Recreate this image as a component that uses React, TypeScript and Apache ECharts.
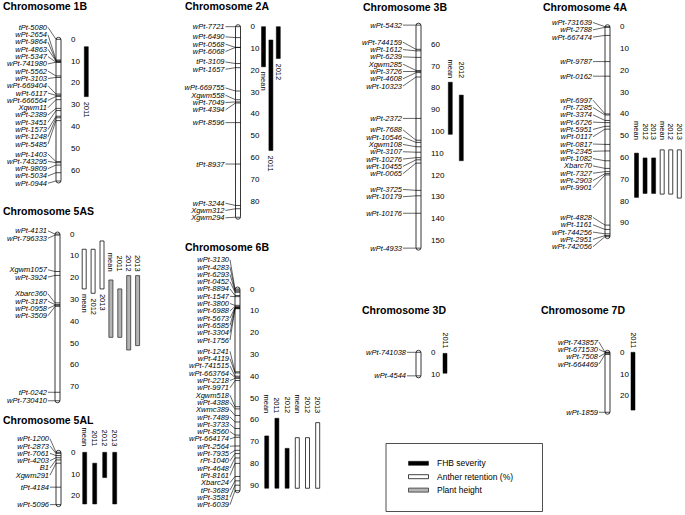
import React, { useEffect, useRef } from "react";
import * as echarts from "echarts";

const SCALE = 2.18; // px per cM
const LABEL_STEP = 7.3;
const FONT = "'Liberation Sans', Arial, Helvetica, sans-serif";

// ---------- marker data: [name, position cM] ----------
const markers1B: [string, number][] = [
  ["tPt-5080", 0], ["wPt-2654", 9.5], ["wPt-9864", 10], ["wPt-4863", 10], ["wPt-5347", 10.5], ["wPt-741980", 10.5],
  ["wPt-5562", 16.8], ["wPt-3103", 17.5], ["wPt-669404", 25.1], ["wPt-6117", 25.7], ["wPt-666564", 26.2], ["Xgwm11", 27.7],
  ["wPt-2389", 31.7], ["wPt-3451", 32.7], ["wPt-1573", 35.3], ["wPt-1248", 36], ["wPt-5485", 37.3],
  ["wPt-1403", 56.1], ["wPt-743295", 56.6], ["wPt-9809", 57.7], ["wPt-5034", 61.2], ["wPt-0944", 65],
];
const markers2A: [string, number][] = [
  ["wPt-7721", 0], ["wPt-6490", 5], ["wPt-0568", 9.5], ["wPt-6068", 9.5], ["tPt-3109", 16.9], ["wPt-1657", 18.8],
  ["wPt-669755", 29.5], ["Xgwm558", 33.5], ["wPt-7049", 34.5], ["wPt-4394", 35], ["wPt-8596", 44], ["tPt-8937", 63],
  ["wPt-3244", 82], ["Xgwm312", 83.5], ["Xgwm294", 87.4],
];
const markers3B: [string, number][] = [
  ["wPt-5432", 51.2], ["wPt-744159", 62.3], ["wPt-1612", 63], ["wPt-6239", 66], ["Xgwm285", 72], ["wPt-3726", 72.5],
  ["wPt-4608", 73], ["wPt-10323", 75], ["wPt-2372", 94], ["wPt-7688", 104], ["wPt-10546", 105], ["Xgwm108", 107],
  ["wPt-3107", 109.5], ["wPt-10276", 112], ["wPt-10455", 113], ["wPt-0065", 114.5], ["wPt-3725", 127],
  ["wPt-10179", 129.5], ["wPt-10176", 137.5], ["wPt-4933", 153.5],
];
const markers4A: [string, number][] = [
  ["wPt-731639", 0], ["wPt-2788", 0.3], ["wPt-667474", 4], ["wPt-9787", 16], ["wPt-0162", 22.7], ["wPt-6997", 40],
  ["rPt-7285", 40.5], ["wPt-3374", 43], ["wPt-6726", 44], ["wPt-5951", 45.7], ["wPt-0117", 47], ["wPt-0817", 54],
  ["wPt-2345", 57], ["wPt-1082", 61.5], ["Xbarc70", 65], ["wPt-7327", 66.5], ["wPt-2903", 67.4], ["wPt-9901", 68],
  ["wPt-4828", 91], ["wPt-1161", 93], ["wPt-744256", 95], ["wPt-2951", 95.8], ["wPt-742056", 96.3],
];
const markers5AS: [string, number][] = [
  ["wPt-4131", 0], ["wPt-796333", 0.5], ["Xgwm1057", 17.2], ["wPt-3924", 19], ["Xbarc360", 31.6], ["wPt-3187", 32.4],
  ["wPt-0958", 32.7], ["wPt-3509", 33.2], ["tPt-0242", 72.6], ["wPt-730410", 76.5],
];
const markers5AL: [string, number][] = [
  ["wPt-1200", 0], ["wPt-2873", 0.5], ["wPt-7061", 1.5], ["wPt-4203", 2.5], ["B1", 3.5], ["Xgwm291", 5],
  ["tPt-4184", 16], ["wPt-5096", 24],
];
const markers6B: [string, number][] = [
  ["wPt-3130", 0], ["wPt-4283", 0.5], ["wPt-6293", 1], ["wPt-0452", 1.5], ["wPt-8894", 3], ["wPt-1547", 3.5],
  ["wPt-3800", 7.5], ["wPt-6988", 8], ["wPt-5673", 8.5], ["wPt-6585", 8.5], ["wPt-3304", 9], ["wPt-1756", 9],
  ["wPt-1241", 38], ["wPt-4119", 38.5], ["wPt-741515", 40], ["wPt-663764", 40.5], ["wPt-2218", 41], ["wPt-9971", 42],
  ["Xgwm518", 54], ["wPt-4388", 55], ["Xwmc389", 58], ["wPt-7489", 61], ["wPt-3733", 64], ["wPt-8560", 67],
  ["wPt-664174", 68], ["wPt-2564", 72], ["wPt-7935", 74], ["rPt-1040", 75.5], ["wPt-4648", 77.5], ["tPt-8161", 80],
  ["Xbarc24", 86], ["tPt-3689", 88], ["wPt-3581", 90], ["wPt-6039", 92.5],
];
const markers3D: [string, number][] = [["wPt-741038", 0], ["wPt-4544", 10.8]];
const markers7D: [string, number][] = [
  ["wPt-743857", 0], ["wPt-671530", 0], ["wPt-7508", 0.5], ["wPt-664469", 1], ["wPt-1859", 27.5],
];

// ---------- axis tick labels (cM) ----------
const ticks1B = [0, 10, 20, 30, 40, 50, 60];
const ticks2A = [0, 10, 20, 30, 40, 50, 60, 70, 80];
const ticks3B = [60, 70, 80, 90, 100, 110, 120, 130, 140, 150];
const ticks4A = [0, 10, 20, 30, 40, 50, 60, 70, 80, 90];
const ticks5AS = [0, 10, 20, 30, 40, 50, 60, 70];
const ticks5AL = [0, 10, 20];
const ticks6B = [0, 10, 20, 30, 40, 50, 60, 70, 80, 90];
const ticks3D = [0, 10];
const ticks7D = [0, 10, 20];

// ---------- QTL intervals ----------
type Qtl = { env: string; trait: "fhb" | "anther" | "height"; from: number; to: number; below?: boolean };
const qtl1B: Qtl[] = [{ env: "2011", trait: "fhb", from: 3.4, to: 26.3, below: true }];
const qtl2A: Qtl[] = [
  { env: "mean", trait: "fhb", from: 0, to: 18.4, below: true },
  { env: "2011", trait: "fhb", from: 6.1, to: 56.8, below: true },
  { env: "2012", trait: "fhb", from: 0, to: 14.6, below: true },
];
const qtl3B: Qtl[] = [
  { env: "mean", trait: "fhb", from: 77.4, to: 101.3 },
  { env: "2012", trait: "fhb", from: 83.3, to: 113.4 },
];
const qtl4A: Qtl[] = [
  { env: "mean", trait: "fhb", from: 58, to: 78.3 },
  { env: "2012", trait: "fhb", from: 60.2, to: 76.5 },
  { env: "2013", trait: "fhb", from: 60.2, to: 76.5 },
  { env: "mean", trait: "anther", from: 56.5, to: 76.8 },
  { env: "2012", trait: "anther", from: 56.5, to: 76.8 },
  { env: "2013", trait: "anther", from: 56.5, to: 78.6 },
];
const qtl5AS: Qtl[] = [
  { env: "mean", trait: "anther", from: 7.0, to: 25.2, below: true },
  { env: "2012", trait: "anther", from: 7.0, to: 27.2, below: true },
  { env: "2013", trait: "anther", from: 3.2, to: 25.2, below: true },
  { env: "mean", trait: "height", from: 21.1, to: 47.4 },
  { env: "2011", trait: "height", from: 25.2, to: 47.4 },
  { env: "2012", trait: "height", from: 19.1, to: 53.2 },
  { env: "2013", trait: "height", from: 19.1, to: 51.2 },
];
const qtl5AL: Qtl[] = [
  { env: "mean", trait: "fhb", from: 0, to: 23.7 },
  { env: "2011", trait: "fhb", from: 5.0, to: 23.7 },
  { env: "2012", trait: "fhb", from: 0, to: 11.6 },
  { env: "2013", trait: "fhb", from: 0, to: 23.7 },
];
const qtl6B: Qtl[] = [
  { env: "mean", trait: "fhb", from: 67.4, to: 91.4 },
  { env: "2011", trait: "fhb", from: 59.3, to: 91.4 },
  { env: "2012", trait: "fhb", from: 73.1, to: 91.4 },
  { env: "mean", trait: "anther", from: 68.2, to: 91.4 },
  { env: "2012", trait: "anther", from: 68.2, to: 91.4 },
  { env: "2013", trait: "anther", from: 61.3, to: 91.4 },
];
const qtl3D: Qtl[] = [{ env: "2011", trait: "fhb", from: 0.5, to: 9.6 }];
const qtl7D: Qtl[] = [{ env: "2011", trait: "fhb", from: 0, to: 26.5 }];

const legendLabels = ["FHB severity", "Anther retention (%)", "Plant height"];
const legendTraits: Qtl["trait"][] = ["fhb", "anther", "height"];

// ---------- layout (positions only) ----------
const panels = [
  { title: "Chromosome 1B", titleX: 3, titleY: 0, left: 56, y0: 39.3, gap: 9, qtlOffset: 25.3, qtlStep: 8, labelGap: 5, markers: markers1B, ticks: ticks1B, qtls: qtl1B },
  { title: "Chromosome 2A", titleX: 185, titleY: 0.5, left: 235.5, y0: 26.7, gap: 11, qtlOffset: 23, qtlStep: 7.4, labelGap: 5, markers: markers2A, ticks: ticks2A, qtls: qtl2A },
  { title: "Chromosome 3B", titleX: 363, titleY: 1, left: 416, y0: -86.5, gap: 14, qtlOffset: 29.3, qtlStep: 11, labelGap: 4, markers: markers3B, ticks: ticks3B, qtls: qtl3B },
  { title: "Chromosome 4A", titleX: 543, titleY: 1, left: 605, y0: 26.7, gap: 13, qtlOffset: 26.5, qtlStep: 8.56, labelGap: 10, markers: markers4A, ticks: ticks4A, qtls: qtl4A },
  { title: "Chromosome 5AS", titleX: 3, titleY: 205.5, left: 55, y0: 234, gap: 8, qtlOffset: 24.2, qtlStep: 8.9, labelGap: 4, markers: markers5AS, ticks: ticks5AS, qtls: qtl5AS },
  { title: "Chromosome 5AL", titleX: 3, titleY: 414, left: 56, y0: 452.3, gap: 7, qtlOffset: 23.7, qtlStep: 10, labelGap: 6, markers: markers5AL, ticks: ticks5AL, qtls: qtl5AL },
  { title: "Chromosome 6B", titleX: 185, titleY: 241, left: 235, y0: 289, gap: 6, qtlOffset: 26.7, qtlStep: 10.2, labelGap: 5, markers: markers6B, ticks: ticks6B, qtls: qtl6B },
  { title: "Chromosome 3D", titleX: 362, titleY: 304, left: 416, y0: 352.3, gap: 10, qtlOffset: 24, qtlStep: 8, labelGap: 5, markers: markers3D, ticks: ticks3D, qtls: qtl3D },
  { title: "Chromosome 7D", titleX: 541, titleY: 304, left: 605, y0: 352.3, gap: 7, qtlOffset: 23, qtlStep: 8, labelGap: 4, markers: markers7D, ticks: ticks7D, qtls: qtl7D },
];

const CHROM_W = 5;
const BAR_W = 4;

const TRAIT_STYLE: Record<string, any> = {
  fhb: { fill: "#000", stroke: "#000", lineWidth: 0.5 },
  anther: { fill: "#fff", stroke: "#111", lineWidth: 0.8 },
  height: { fill: "#b4b4b4", stroke: "#333", lineWidth: 0.8 },
};

function spread(ys: number[], step: number): number[] {
  const clusters: { first: number; n: number; sum: number; top: number }[] = [];
  for (let i = 0; i < ys.length; i++) {
    clusters.push({ first: i, n: 1, sum: ys[i], top: ys[i] });
    while (clusters.length > 1) {
      const b = clusters[clusters.length - 1];
      const a = clusters[clusters.length - 2];
      if (a.top + a.n * step > b.top + 1e-6) {
        const n = a.n + b.n;
        const sum = a.sum + b.sum;
        clusters.splice(clusters.length - 2, 2, { first: a.first, n, sum, top: sum / n - ((n - 1) * step) / 2 });
      } else break;
    }
  }
  const out: number[] = new Array(ys.length);
  clusters.forEach((c) => {
    for (let k = 0; k < c.n; k++) out[c.first + k] = c.top + k * step;
  });
  return out;
}

function buildOption() {
  const grid: any[] = [];
  const xAxis: any[] = [];
  const yAxis: any[] = [];
  const series: any[] = [];
  const title: any[] = [];

  panels.forEach((p, gi) => {
    const vals = p.markers.map((m) => m[1]);
    const min = Math.min(...vals);
    const max = Math.max(...vals);
    grid.push({
      left: p.left,
      top: p.y0 + min * SCALE,
      width: CHROM_W,
      height: (max - min) * SCALE,
      containLabel: false,
      outerBoundsMode: "none",
    });
    xAxis.push({ gridIndex: gi, type: "value", min: 0, max: 1, show: false });
    yAxis.push({
      gridIndex: gi,
      type: "value",
      inverse: true,
      min,
      max,
      position: "right",
      axisLine: { show: false },
      splitLine: { show: false },
      axisTick: { show: true, inside: false, length: 5, lineStyle: { color: "#000", width: 0.8 }, customValues: p.ticks },
      axisLabel: { show: true, margin: 10, fontSize: 8, color: "#000", fontFamily: FONT, customValues: p.ticks },
    });
    title.push({
      text: p.title,
      left: p.titleX,
      top: p.titleY,
      padding: 0,
      textStyle: { fontSize: 10.5, fontWeight: "bold", color: "#000", fontFamily: FONT },
    });

    // chromosome body
    series.push({
      type: "custom",
      xAxisIndex: gi,
      yAxisIndex: gi,
      clip: false,
      z: 1,
      silent: true,
      data: [[0, min, max]],
      renderItem: (params: any, api: any) => {
        const cs = params.coordSys;
        const a = api.coord([0, api.value(1)]);
        const b = api.coord([0, api.value(2)]);
        return {
          type: "rect",
          shape: { x: cs.x, y: a[1] - 2, width: cs.width, height: b[1] - a[1] + 4, r: 2.5 },
          style: { fill: "#fff", stroke: "#222", lineWidth: 0.9 },
        };
      },
    });

    // markers with labels
    series.push({
      type: "custom",
      xAxisIndex: gi,
      yAxisIndex: gi,
      clip: false,
      z: 2,
      silent: true,
      data: p.markers.map((m) => ({ name: m[0], value: [0, m[1]] })),
      renderItem: (params: any, api: any) => {
        const cs = params.coordSys;
        const i = params.dataIndex;
        const ys = p.markers.map((m) => api.coord([0, m[1]])[1]);
        const ly = spread(ys, LABEL_STEP)[i];
        const my = ys[i];
        const xL = cs.x;
        const xR = cs.x + cs.width;
        const xText = xL - p.gap;
        return {
          type: "group",
          children: [
            { type: "line", shape: { x1: xL, y1: my, x2: xR, y2: my }, style: { stroke: "#000", lineWidth: 0.7 } },
            { type: "line", shape: { x1: xText + 1, y1: ly, x2: xL, y2: my }, style: { stroke: "#000", lineWidth: 0.6 } },
            {
              type: "text",
              style: {
                text: p.markers[i][0],
                x: xText,
                y: ly,
                align: "right",
                verticalAlign: "middle",
                fontSize: 7.5,
                fontStyle: "italic",
                fontFamily: FONT,
                fill: "#000",
              },
            },
          ],
        };
      },
    });

    // QTL bars
    series.push({
      type: "custom",
      xAxisIndex: gi,
      yAxisIndex: gi,
      clip: false,
      z: 3,
      silent: true,
      data: p.qtls.map((q) => [0, q.from, q.to]),
      renderItem: (params: any, api: any) => {
        const cs = params.coordSys;
        const i = params.dataIndex;
        const q = p.qtls[i];
        const cx = cs.x + cs.width + p.qtlOffset + i * p.qtlStep;
        const yTop = api.coord([0, api.value(1)])[1];
        const yBot = api.coord([0, api.value(2)])[1];
        const aboveTops = p.qtls.filter((x) => !x.below).map((x) => api.coord([0, x.from])[1]);
        const labelAboveY = aboveTops.length ? Math.min(...aboveTops) - p.labelGap : 0;
        const textStyle = { text: q.env, x: 0, y: 0, verticalAlign: "middle", fontSize: 7.5, fontFamily: FONT, fill: "#000" };
        const label = q.below
          ? { type: "text", x: cx, y: yBot + 5, rotation: -Math.PI / 2, style: { ...textStyle, align: "left" } }
          : { type: "text", x: cx, y: labelAboveY, rotation: -Math.PI / 2, style: { ...textStyle, align: "right" } };
        return {
          type: "group",
          children: [
            { type: "rect", shape: { x: cx - BAR_W / 2, y: yTop, width: BAR_W, height: yBot - yTop }, style: TRAIT_STYLE[q.trait] },
            label,
          ],
        };
      },
    });
  });

  // legend box drawn with graphic elements
  const graphic: any[] = [
    { type: "rect", shape: { x: 386, y: 443.5, width: 156.5, height: 68 }, style: { fill: "#fff", stroke: "#222", lineWidth: 0.8 } },
  ];
  legendLabels.forEach((lab, k) => {
    const y = 463.3 + k * 13.4;
    graphic.push({ type: "rect", shape: { x: 408.5, y: y - 2, width: 20, height: 4 }, style: TRAIT_STYLE[legendTraits[k]] });
    graphic.push({
      type: "text",
      x: 437,
      y,
      style: { text: lab, verticalAlign: "middle", align: "left", fontSize: 8.5, fontFamily: FONT, fill: "#000" },
    });
  });

  return { animation: false, backgroundColor: "#fff", title, grid, xAxis, yAxis, series, graphic };
}

export default function App() {
  const ref = useRef<HTMLDivElement>(null);
  useEffect(() => {
    document.body.style.margin = "0";
    if (!ref.current) return;
    const chart = echarts.init(ref.current, undefined, { renderer: "svg" });
    chart.setOption(buildOption() as any);
    return () => chart.dispose();
  }, []);
  return <div ref={ref} style={{ position: "absolute", left: 0, top: 0, width: 685, height: 515 }} />;
}
